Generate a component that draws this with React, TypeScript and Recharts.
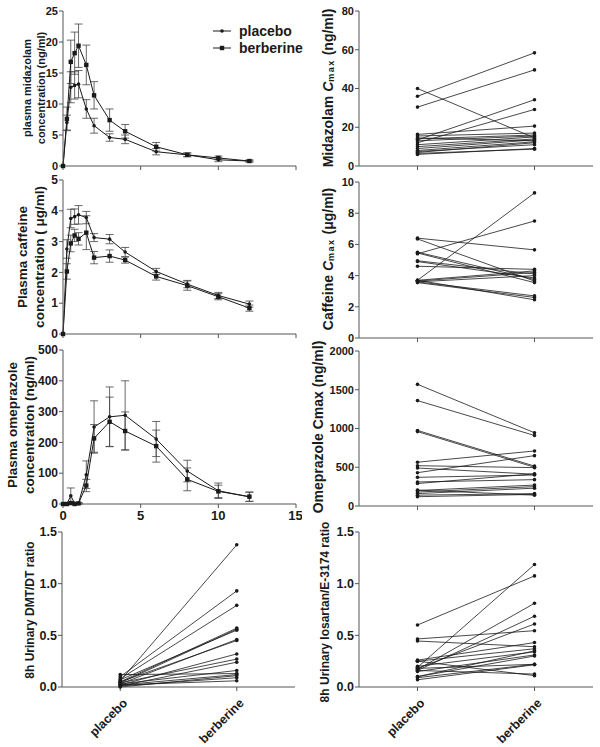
import React from "react";
import { LineChart, Line, XAxis, YAxis, ErrorBar } from "recharts";

// ---------------------------------------------------------------------------
// Data — PK curves (mean ± error) and paired Cmax / urinary ratios
// ---------------------------------------------------------------------------

const TIMES = [0, 0.25, 0.5, 0.75, 1, 1.5, 2, 3, 4, 6, 8, 10, 12];

const MDZ_PLACEBO = [0, 7.0, 12.7, 13.0, 13.2, 9.2, 6.5, 4.6, 4.3, 2.3, 1.8, 1.0, 0.8];
const MDZ_PLACEBO_ERR = [0, 1.2, 2.5, 2.2, 2.2, 1.5, 1.2, 0.6, 0.7, 0.5, 0.3, 0.3, 0.15];
const MDZ_BERB = [0, 7.6, 16.8, 18.2, 19.4, 16.3, 11.4, 7.4, 5.6, 3.1, 1.8, 1.3, 0.8];
const MDZ_BERB_ERR = [0, 1.9, 3.5, 3.4, 3.5, 3.2, 2.2, 1.8, 1.1, 0.7, 0.3, 0.3, 0.15];

const CAF_PLACEBO = [0, 2.76, 3.75, 3.81, 3.87, 3.78, 3.13, 3.08, 2.66, 2.03, 1.62, 1.25, 0.97];
const CAF_PLACEBO_ERR = [0, 0.3, 0.3, 0.25, 0.3, 0.2, 0.13, 0.15, 0.15, 0.1, 0.12, 0.1, 0.1];
const CAF_BERB = [0, 2.03, 2.94, 3.2, 3.09, 3.29, 2.48, 2.53, 2.4, 1.87, 1.57, 1.21, 0.84];
const CAF_BERB_ERR = [0, 0.25, 0.27, 0.2, 0.2, 0.55, 0.2, 0.2, 0.1, 0.12, 0.15, 0.1, 0.1];

const OME_PLACEBO = [0, 0, 27, 2, 2, 95, 250, 283, 288, 211, 107, 43, 23];
const OME_PLACEBO_ERR = [0, 0, 25, 2, 2, 45, 85, 97, 112, 57, 35, 25, 15];
const OME_BERB = [0, 0, 3, 0, 2, 60, 213, 267, 237, 188, 80, 41, 24];
const OME_BERB_ERR = [0, 0, 3, 0, 2, 20, 45, 80, 62, 52, 37, 20, 15];

const GROUPS = ["placebo", "berberine"];

const MDZ_CMAX_PLACEBO = [36, 30.4, 40, 13.5, 12, 16.3, 15.5, 14, 13, 11, 10, 9, 8, 7, 6, 6.5, 14.5, 7.5];
const MDZ_CMAX_BERB = [58.4, 49.6, 14.5, 34.2, 29.2, 20.6, 17, 16, 15.5, 15, 14, 13.5, 12.5, 12, 9, 8.7, 13, 11];

const CAF_CMAX_PLACEBO = [3.7, 5.4, 6.4, 6.35, 5.5, 5.45, 4.95, 4.9, 4.6, 3.7, 3.65, 3.6, 3.55, 3.7, 3.6];
const CAF_CMAX_BERB = [9.3, 7.5, 5.65, 3.65, 3.75, 3.55, 4.1, 3.85, 4.4, 4.3, 4.2, 2.7, 2.6, 2.45, 4.0];

const OME_CMAX_PLACEBO = [1570, 1360, 975, 960, 565, 430, 520, 490, 370, 310, 290, 200, 180, 160, 140, 120, 205];
const OME_CMAX_BERB = [945, 910, 515, 500, 710, 650, 495, 410, 400, 340, 415, 270, 250, 230, 160, 150, 140];

const DMT_PLACEBO = [0.06, 0.1, 0.08, 0.05, 0.04, 0.07, 0.03, 0.05, 0.02, 0.04, 0.01, 0.03, 0.12, 0.02, 0.0, 0.01, 0.02];
const DMT_BERB = [1.376, 0.93, 0.79, 0.57, 0.56, 0.55, 0.46, 0.45, 0.32, 0.27, 0.24, 0.16, 0.13, 0.12, 0.11, 0.09, 0.06];

const LOS_PLACEBO = [0.6, 0.19, 0.17, 0.16, 0.18, 0.465, 0.445, 0.26, 0.25, 0.2, 0.15, 0.1, 0.09, 0.07, 0.16, 0.25, 0.18, 0.1];
const LOS_BERB = [1.075, 1.185, 0.81, 0.685, 0.61, 0.545, 0.39, 0.43, 0.37, 0.34, 0.31, 0.3, 0.22, 0.215, 0.125, 0.11, 0.22, 0.35];

// ---------------------------------------------------------------------------
// Styling
// ---------------------------------------------------------------------------

const FONT = '"Liberation Sans", Arial, Helvetica, sans-serif';
const AXIS = "#555";
const INK = "#1a1a1a";

const tickStyle = (fs: number) => ({ fontSize: fs, fontWeight: 700, fill: INK, fontFamily: FONT });

type Box = { x0: number; x1: number; y0: number; y1: number };

// plot rectangles in page pixels
const BOX_MDZ: Box = { x0: 63, x1: 296, y0: 11, y1: 166 };
const BOX_CAF: Box = { x0: 63, x1: 296, y0: 180, y1: 334 };
const BOX_OME: Box = { x0: 63, x1: 296, y0: 350, y1: 504 };
const BOX_DMT: Box = { x0: 62, x1: 295, y0: 532, y1: 687 };
const BOX_MDZ_C: Box = { x0: 359, x1: 593, y0: 11, y1: 166 };
const BOX_CAF_C: Box = { x0: 359, x1: 593, y0: 182, y1: 338 };
const BOX_OME_C: Box = { x0: 359, x1: 593, y0: 351, y1: 506 };
const BOX_LOS: Box = { x0: 359, x1: 593, y0: 532, y1: 687 };

const Y_W = 40;
const X_H = 50;

function frame(b: Box) {
  const padL = 60, padT = 14, padR = 6, padB = 60;
  return {
    style: { position: "absolute" as const, left: b.x0 - padL, top: b.y0 - padT },
    width: b.x1 - b.x0 + padL + padR,
    height: b.y1 - b.y0 + padT + padB,
    margin: { left: padL - Y_W, top: padT, right: padR, bottom: padB - X_H },
  };
}

function buildPk(placebo: number[], pErr: number[], berb: number[], bErr: number[]) {
  return TIMES.map((t, i) => ({ t, p: placebo[i], pe: pErr[i], b: berb[i], be: bErr[i] }));
}

function buildPairs(before: number[], after: number[]) {
  const rows: Record<string, string | number>[] = GROUPS.map((g) => ({ g }));
  before.forEach((v, i) => {
    rows[0][`s${i}`] = v;
    rows[1][`s${i}`] = after[i];
  });
  return rows;
}

const squareDot = (props: any) => (
  <rect
    key={`sq-${props.index}`}
    x={props.cx - 2.2}
    y={props.cy - 2.2}
    width={4.4}
    height={4.4}
    fill={INK}
  />
);

// ---------------------------------------------------------------------------
// Panels
// ---------------------------------------------------------------------------

function PkPanel({ box, data, yMax, yTicks, fs, showX }: {
  box: Box; data: any[]; yMax: number; yTicks: number[]; fs: number; showX?: boolean;
}) {
  const f = frame(box);
  return (
    <div style={f.style}>
      <LineChart width={f.width} height={f.height} data={data} margin={f.margin}>
        <XAxis
          dataKey="t"
          type="number"
          domain={[0, 15]}
          ticks={[0, 5, 10, 15]}
          height={X_H}
          stroke={AXIS}
          tickSize={4}
          tickMargin={3}
          tick={tickStyle(13)}
          tickFormatter={(v: number) => (showX ? String(v) : "")}
        />
        <YAxis
          type="number"
          domain={[0, yMax]}
          ticks={yTicks}
          width={Y_W}
          stroke={AXIS}
          tickSize={4}
          tickMargin={1}
          tick={tickStyle(fs)}
          interval={0}
        />
        <Line
          dataKey="p"
          stroke={INK}
          strokeWidth={1}
          dot={{ r: 1.8, fill: INK, stroke: "none" }}
          isAnimationActive={false}
        >
          <ErrorBar dataKey="pe" width={4} stroke="#444" strokeWidth={0.8} />
        </Line>
        <Line
          dataKey="b"
          stroke={INK}
          strokeWidth={1}
          dot={squareDot}
          isAnimationActive={false}
        >
          <ErrorBar dataKey="be" width={4} stroke="#444" strokeWidth={0.8} />
        </Line>
      </LineChart>
    </div>
  );
}

const CatTick = (props: any) => {
  const { x, y, payload } = props;
  return (
    <text
      transform={`translate(${x + 5},${y + 8}) rotate(-45)`}
      textAnchor="end"
      dominantBaseline="central"
      style={tickStyle(12.5)}
    >
      {payload.value}
    </text>
  );
};

function PairPanel({ box, before, after, yMax, yTicks, fs, fmt, labels }: {
  box: Box; before: number[]; after: number[]; yMax: number; yTicks: number[]; fs: number;
  fmt?: (v: number) => string; labels?: boolean;
}) {
  const f = frame(box);
  const data = buildPairs(before, after);
  const pad = (box.x1 - box.x0) / 4;
  return (
    <div style={f.style}>
      <LineChart width={f.width} height={f.height} data={data} margin={f.margin}>
        <XAxis
          dataKey="g"
          type="category"
          height={X_H}
          stroke={AXIS}
          tickSize={4}
          padding={{ left: pad, right: pad }}
          tick={labels ? <CatTick /> : () => null}
        />
        <YAxis
          type="number"
          domain={[0, yMax]}
          ticks={yTicks}
          width={Y_W}
          stroke={AXIS}
          tickSize={4}
          tickMargin={1}
          tick={tickStyle(fs)}
          interval={0}
          tickFormatter={fmt}
        />
        {before.map((_, i) => (
          <Line
            key={i}
            dataKey={`s${i}`}
            stroke={INK}
            strokeWidth={0.8}
            dot={{ r: 1.8, fill: INK, stroke: "none" }}
            isAnimationActive={false}
          />
        ))}
      </LineChart>
    </div>
  );
}

// ---------------------------------------------------------------------------
// Axis titles + legend (overlay)
// ---------------------------------------------------------------------------

function VTitle({ x, y, size, children }: { x: number; y: number; size: number; children: React.ReactNode }) {
  return (
    <text
      transform={`translate(${x},${y}) rotate(-90)`}
      textAnchor="middle"
      dominantBaseline="central"
      style={{ fontFamily: FONT, fontWeight: 700, fontSize: size, fill: INK }}
    >
      {children}
    </text>
  );
}

function Cmax() {
  return (
    <>
      <tspan fontStyle="italic">C</tspan>
      <tspan fontSize={9} dy={3} letterSpacing={1.5}>max</tspan>
      <tspan dy={-3}> </tspan>
    </>
  );
}

function Overlay() {
  return (
    <svg
      width={600}
      height={747}
      style={{ position: "absolute", left: 0, top: 0, pointerEvents: "none" }}
    >
      <VTitle x={27} y={88} size={11}>plasma midazolam</VTitle>
      <VTitle x={41} y={88} size={11}>concentration (ng/ml)</VTitle>

      <VTitle x={22} y={257} size={13.5}>Plasma caffeine</VTitle>
      <VTitle x={39} y={257} size={13.5}>concentration ( μg/ml)</VTitle>

      <VTitle x={12} y={425} size={13.5}>Plasma omeprazole</VTitle>
      <VTitle x={29} y={425} size={13.5}>concentration (ng/ml)</VTitle>

      <VTitle x={30} y={610} size={12}>8h Urinary DMT/DT ratio</VTitle>

      <VTitle x={328} y={88} size={14}>
        Midazolam <Cmax />(ng/ml)
      </VTitle>
      <VTitle x={328} y={259} size={14}>
        Caffeine <Cmax />(μg/ml)
      </VTitle>
      <VTitle x={318} y={427} size={14}>Omeprazole  Cmax (ng/ml)</VTitle>
      <VTitle x={325} y={612} size={12}>8h Urinary losartan/E-3174 ratio</VTitle>

      {/* legend */}
      <line x1={213} y1={31} x2={231} y2={31} stroke={INK} strokeWidth={1} />
      <circle cx={222} cy={31} r={1.8} fill={INK} />
      <text x={239} y={31} dominantBaseline="central"
        style={{ fontFamily: FONT, fontWeight: 700, fontSize: 14, fill: INK }}>
        placebo
      </text>
      <line x1={213} y1={48} x2={231} y2={48} stroke={INK} strokeWidth={1} />
      <rect x={219.8} y={45.8} width={4.4} height={4.4} fill={INK} />
      <text x={239} y={48} dominantBaseline="central"
        style={{ fontFamily: FONT, fontWeight: 700, fontSize: 14, fill: INK }}>
        berberine
      </text>
    </svg>
  );
}

// ---------------------------------------------------------------------------
// App
// ---------------------------------------------------------------------------

const ratioFmt = (v: number) => v.toFixed(1);

export default function App() {
  return (
    <div style={{ position: "absolute", left: 0, top: 0, width: 600, height: 747, background: "#fff", fontFamily: FONT }}>
      <PkPanel box={BOX_MDZ} data={buildPk(MDZ_PLACEBO, MDZ_PLACEBO_ERR, MDZ_BERB, MDZ_BERB_ERR)}
        yMax={25} yTicks={[0, 5, 10, 15, 20, 25]} fs={11} />
      <PkPanel box={BOX_CAF} data={buildPk(CAF_PLACEBO, CAF_PLACEBO_ERR, CAF_BERB, CAF_BERB_ERR)}
        yMax={5} yTicks={[0, 1, 2, 3, 4, 5]} fs={12} />
      <PkPanel box={BOX_OME} data={buildPk(OME_PLACEBO, OME_PLACEBO_ERR, OME_BERB, OME_BERB_ERR)}
        yMax={500} yTicks={[0, 100, 200, 300, 400, 500]} fs={12} showX />
      <PairPanel box={BOX_DMT} before={DMT_PLACEBO} after={DMT_BERB}
        yMax={1.5} yTicks={[0, 0.5, 1, 1.5]} fs={12.5} fmt={ratioFmt} labels />

      <PairPanel box={BOX_MDZ_C} before={MDZ_CMAX_PLACEBO} after={MDZ_CMAX_BERB}
        yMax={80} yTicks={[0, 20, 40, 60, 80]} fs={11} />
      <PairPanel box={BOX_CAF_C} before={CAF_CMAX_PLACEBO} after={CAF_CMAX_BERB}
        yMax={10} yTicks={[0, 2, 4, 6, 8, 10]} fs={11} />
      <PairPanel box={BOX_OME_C} before={OME_CMAX_PLACEBO} after={OME_CMAX_BERB}
        yMax={2000} yTicks={[0, 500, 1000, 1500, 2000]} fs={11} />
      <PairPanel box={BOX_LOS} before={LOS_PLACEBO} after={LOS_BERB}
        yMax={1.5} yTicks={[0, 0.5, 1, 1.5]} fs={12.5} fmt={ratioFmt} labels />

      <Overlay />
    </div>
  );
}
